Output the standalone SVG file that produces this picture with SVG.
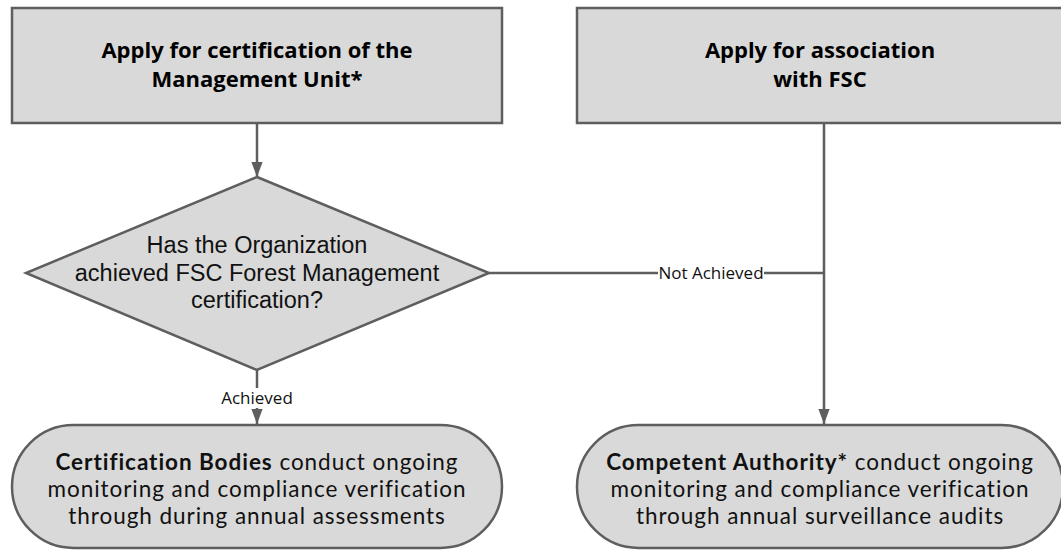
<svg xmlns="http://www.w3.org/2000/svg" width="1061" height="550" viewBox="0 0 1061 550">
<defs>
<style>
.shape{fill:#d9d9d9;stroke:#5e5e5e;stroke-width:2.5}
.line{fill:none;stroke:#5e5e5e;stroke-width:2.5}
.title{font-family:"Open Sans","Liberation Sans",sans-serif;font-weight:bold;font-size:22px;fill:#000;text-anchor:middle}
.q{font-family:"Liberation Sans",Arial,sans-serif;font-size:23.5px;fill:#111;text-anchor:middle}
.body{font-family:Lato,"Open Sans","Liberation Sans",sans-serif;font-size:22.5px;letter-spacing:0.95px;font-variant-ligatures:none;fill:#111;text-anchor:middle}
.lbl{font-family:"Open Sans","Liberation Sans",sans-serif;font-size:17px;fill:#111;text-anchor:middle}
</style>
<marker id="arr" markerWidth="15" markerHeight="20" refX="20" refY="7.5" orient="auto" markerUnits="userSpaceOnUse" viewBox="0 0 20 15">
<path d="M0,0 L20,7.5 L0,15 Z" fill="#5e5e5e"/>
</marker>
</defs>
<rect width="1061" height="550" fill="#fff"/>
<g id="connectors">
<line class="line" x1="257" y1="123" x2="257" y2="177" marker-end="url(#arr)"/>
<line class="line" x1="257" y1="370" x2="257" y2="424" marker-end="url(#arr)"/>
<line class="line" x1="824" y1="123" x2="824" y2="424" marker-end="url(#arr)"/>
<line class="line" x1="489" y1="273" x2="824" y2="273"/>
<rect x="658" y="263" width="106" height="20" fill="#fff"/>
<text class="lbl" x="711" y="279">Not Achieved</text>
<rect x="221" y="388" width="72" height="20" fill="#fff"/>
<text class="lbl" x="257" y="404">Achieved</text>
</g>
<g id="node-apply-cert">
<rect class="shape" x="12" y="8" width="490" height="115"/>
<text class="title" x="257" y="58">Apply for certification of the<tspan x="257" dy="29">Management Unit*</tspan></text>
</g>
<g id="node-apply-assoc">
<rect class="shape" x="577" y="8" width="494" height="115"/>
<text class="title" x="820" y="58">Apply for association<tspan x="820" dy="29">with FSC</tspan></text>
</g>
<g id="node-decision">
<polygon class="shape" points="257,177 489,273 257,370 26,273"/>
<text class="q" x="257" y="253">Has the Organization<tspan x="257" dy="28">achieved FSC Forest Management</tspan><tspan x="257" dy="27">certification?</tspan></text>
</g>
<g id="node-cb">
<rect class="shape" x="12" y="425" width="490" height="123" rx="61.5" ry="61.5"/>
<text class="body" x="257" y="470"><tspan font-weight="bold">Certification Bodies</tspan> conduct ongoing<tspan x="257" dy="27">monitoring and compliance verification</tspan><tspan x="257" dy="27">through during annual assessments</tspan></text>
</g>
<g id="node-ca">
<rect class="shape" x="577" y="425" width="486" height="123" rx="61.5" ry="61.5"/>
<text class="body" x="820" y="470"><tspan font-weight="bold">Competent Authority*</tspan> conduct ongoing<tspan x="820" dy="27">monitoring and compliance verification</tspan><tspan x="820" dy="27">through annual surveillance audits</tspan></text>
</g>
</svg>
